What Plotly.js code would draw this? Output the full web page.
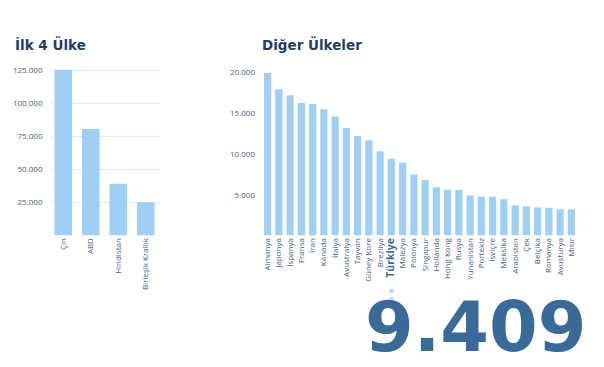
<!DOCTYPE html>
<html>
<head>
<meta charset="utf-8">
<script src="https://cdn.plot.ly/plotly-3.0.1.min.js"></script>
<style>html,body{margin:0;padding:0;background:#fff;}#chart{width:604px;height:367px;}</style>
</head>
<body>
<div id="chart"></div>
<script>
// Data
var topCountries = ['Çin', 'ABD', 'Hindistan', 'Birleşik Krallık'];
var topValues = [125500, 80700, 39200, 25100];
var topTicks = [25000, 50000, 75000, 100000, 125000];

var otherCountries = ['Almanya', 'Japonya', 'İspanya', 'Fransa', 'İran', 'Kanada', 'İtalya', 'Avustralya',
  'Tayvan', 'Güney Kore', 'Brezilya', 'Türkiye', 'Malezya', 'Polonya', 'Singapur', 'Hollanda',
  'Hong Kong', 'Rusya', 'Yunanistan', 'Portekiz', 'İsviçre', 'Meksika', 'Arabistan', 'Çek',
  'Belçika', 'Romanya', 'Avusturya', 'Mısır'];
var otherValues = [19950, 17950, 17200, 16250, 16150, 15500, 14600, 13200,
  12200, 11700, 10350, 9409, 8950, 7500, 6800, 5930,
  5600, 5580, 4900, 4780, 4770, 4450, 3700, 3580,
  3430, 3420, 3220, 3210];
var otherTicks = [5000, 10000, 15000, 20000];
var highlight = 'Türkiye';

var barColor = '#a0cff6';
var gridColor = '#dcedf9';
var tickColor = '#46607e';
var fontFam = 'Open Sans, sans-serif';
var titleFam = 'DejaVu Sans, sans-serif';

function fmt(v) { return String(v).replace(/\B(?=(\d{3})+(?!\d))/g, '.'); }

var hiValue = otherValues[otherCountries.indexOf(highlight)];

var otherTickText = otherCountries.map(function (c) {
  return c === highlight ? '<span style="font-size:10.5px;font-weight:bold;fill:#3d6b98">' + c + '</span>' : c;
});

var traces = [
  { type: 'bar', x: topCountries, y: topValues, marker: { color: barColor }, xaxis: 'x', yaxis: 'y', hoverinfo: 'none' },
  { type: 'bar', x: otherCountries, y: otherValues, marker: { color: barColor }, xaxis: 'x2', yaxis: 'y2', hoverinfo: 'none' }
];

var yDom = [1 - 235.5 / 367, 1 - 66 / 367];
var leftMax = 128400;

var layout = {
  width: 604, height: 367,
  margin: { l: 0, r: 0, t: 0, b: 0 },
  paper_bgcolor: '#fff', plot_bgcolor: 'rgba(0,0,0,0)',
  showlegend: false,
  separators: ',.',
  bargap: 0.36,
  font: { family: fontFam, color: tickColor, size: 8 },
  xaxis: {
    domain: [49.5 / 604, 159.5 / 604], anchor: 'y', type: 'category',
    tickangle: -90, showgrid: false, zeroline: false, showline: false, ticks: '',
    tickfont: { size: 8, color: tickColor, family: fontFam }
  },
  yaxis: {
    domain: yDom, anchor: 'x', range: [0, leftMax],
    tickvals: topTicks, tickformat: ',d', showgrid: true, gridcolor: gridColor, gridwidth: 1,
    zeroline: false, showline: false, ticks: '', ticklabelstandoff: 6,
    tickfont: { size: 8, color: tickColor, family: fontFam }
  },
  xaxis2: {
    domain: [262 / 604, 577 / 604], anchor: 'y2', type: 'category',
    tickangle: -90, showgrid: false, zeroline: false, showline: false, ticks: '',
    tickvals: otherCountries, ticktext: otherTickText,
    tickfont: { size: 8, color: tickColor, family: fontFam }
  },
  yaxis2: {
    domain: yDom, anchor: 'x2', range: [0, 20800],
    tickvals: otherTicks, tickformat: ',d', showgrid: false,
    zeroline: false, showline: false, ticks: '', ticklabelstandoff: 6,
    tickfont: { size: 8, color: tickColor, family: fontFam }
  },
  yaxis3: {
    domain: yDom, anchor: 'x2', overlaying: 'y2', range: [0, leftMax],
    tickvals: topTicks, showticklabels: false, showgrid: true, gridcolor: gridColor,
    zeroline: false, showline: false, ticks: '', layer: 'below traces'
  },
  annotations: [
    { xref: 'paper', yref: 'paper', x: 13 / 604, y: 1 - 44 / 367, xanchor: 'left', yanchor: 'middle',
      text: '<b>İlk 4 Ülke</b>', showarrow: false, font: { size: 13.5, color: '#1f3f66', family: titleFam } },
    { xref: 'paper', yref: 'paper', x: 260 / 604, y: 1 - 44 / 367, xanchor: 'left', yanchor: 'middle',
      text: '<b>Diğer Ülkeler</b>', showarrow: false, font: { size: 13.5, color: '#1f3f66', family: titleFam } },
    { xref: 'paper', yref: 'paper', x: 475 / 604, y: 1 - 327 / 367, xanchor: 'center', yanchor: 'middle',
      text: '<b>' + fmt(hiValue) + '</b>', showarrow: false,
      font: { size: 70, color: '#3a6a98', family: 'DejaVu Sans, sans-serif' } }
  ],
  shapes: [
    { type: 'line', xref: 'x2', yref: 'paper', x0: highlight, x1: highlight,
      y0: 1 - 289 / 367, y1: 1 - 304 / 367, line: { color: '#bcdcf4', width: 4, dash: 'dot' } }
  ]
};

Plotly.newPlot('chart', traces, layout, { staticPlot: true, displayModeBar: false });
</script>
</body>
</html>
